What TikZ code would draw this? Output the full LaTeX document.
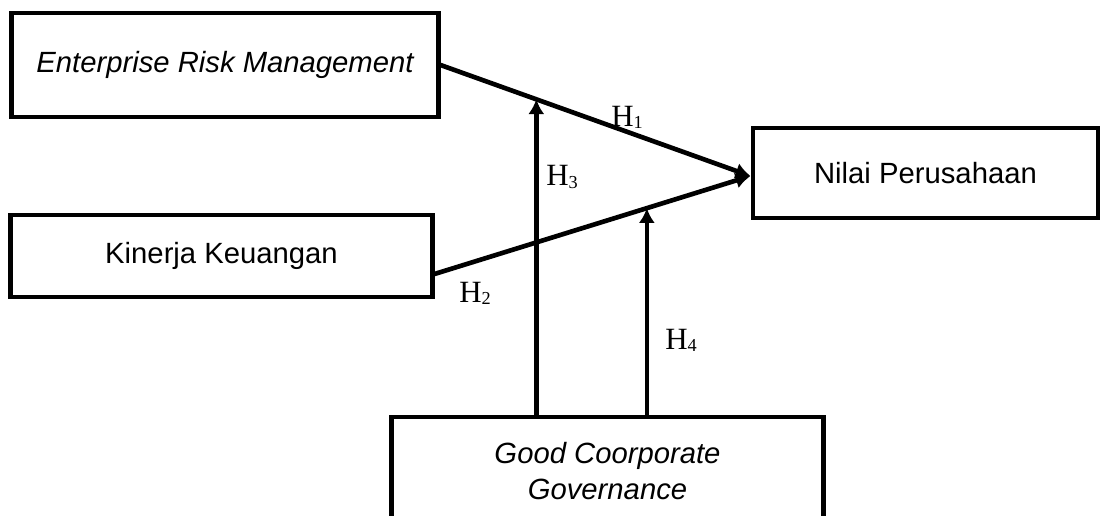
\documentclass[tikz,border=0pt]{standalone}
\usepackage{fontspec}
\setmainfont{Liberation Serif}
\setsansfont{Liberation Sans}
\usetikzlibrary{calc,arrows.meta}

\newcommand{\hyp}[1]{H\raisebox{-1.5pt}{\fontsize{13}{13}\selectfont #1}}

\tikzset{
  varbox/.style={draw, line width=3.5pt, align=center, inner sep=0pt,
    font=\sffamily\fontsize{20.8}{25}\selectfont},
  hyparrow/.style={line width=3.3pt, -{Latex[length=10.5pt,width=11.5pt]}},
  hyplabel/.style={inner sep=0pt, font=\fontsize{22}{24}\selectfont}
}

\begin{document}
\begin{tikzpicture}[x=0.025cm,y=-0.025cm]
    \useasboundingbox (0,0) rectangle (1100,515);% Frame of the picture
    \node [varbox, minimum width=10.65cm, minimum height=2.6cm] (erm)
        at (225,65) {\itshape Enterprise Risk Management};
    \node [varbox, minimum width=10.525cm, minimum height=2.05cm] (kin)
        at (221.5,256) {Kinerja Keuangan};
    \node [varbox, minimum width=8.625cm, minimum height=2.25cm] (nil)
        at (925.5,173) {Nilai Perusahaan};
    \node [varbox, minimum width=10.775cm, minimum height=2.7cm] (gcg)
        at (607.5,471) {\itshape Good Coorporate\\ \itshape Governance};
    \coordinate (kinout) at ($(kin.east)+(0,18)$);% Lower start of H2
    \coordinate (nilin) at ($(nil.west)+(0,3)$);% Common end of H1, H2
    \draw [hyparrow] (erm.east) -- (nilin) coordinate[pos=0.309] (m1);
    \draw [hyparrow] (kinout) -- (nilin) coordinate[pos=0.672] (m2);
    \draw [hyparrow] (gcg.north -| m1) -- (m1);% Moderation on H1
    \draw [hyparrow] (gcg.north -| m2) -- (m2);% Moderation on H2
    \node [hyplabel] (h1) at (627,117) {\hyp{1}};
    \node [hyplabel] (h2) at (475,293) {\hyp{2}};
    \node [hyplabel] (h3) at (562,177) {\hyp{3}};
    \node [hyplabel] (h4) at (681,340) {\hyp{4}};
  \end{tikzpicture}
\end{document}
